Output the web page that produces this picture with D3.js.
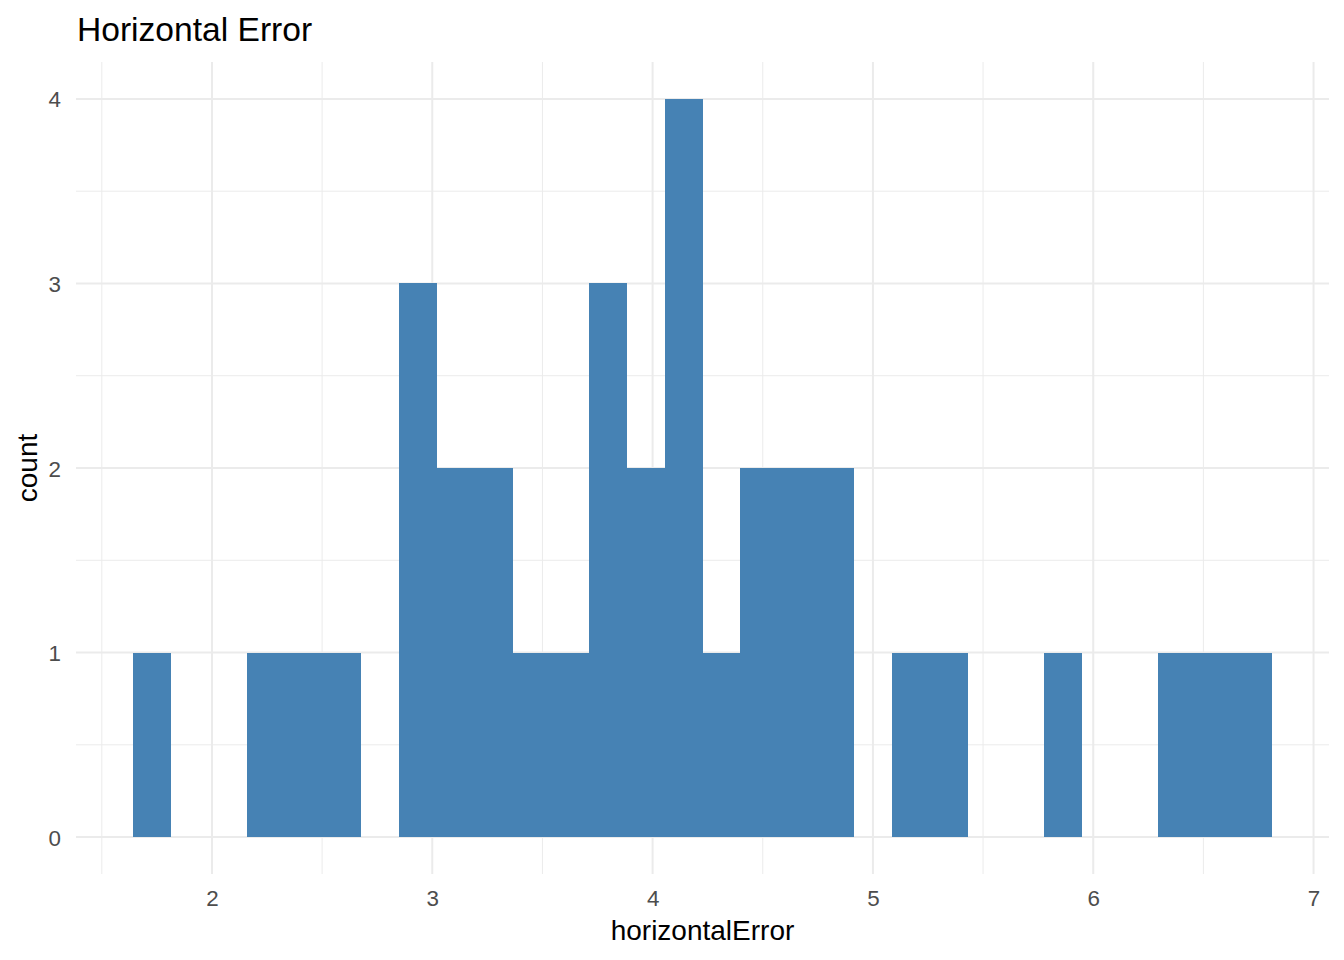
<!DOCTYPE html>
<html>
<head>
<meta charset="utf-8">
<script src="https://cdn.jsdelivr.net/npm/d3@7"></script>
<style>
  body { margin: 0; background: #fff; }
  text { font-family: "Liberation Sans", Arial, sans-serif; }
</style>
</head>
<body>
<div id="chart"></div>
<script>
// histogram counts, 30 bins
var binStart = 1.6414,
    binWidth = 0.17234;
var counts = [1, 0, 0, 1, 1, 1, 0, 3, 2, 2,
              1, 1, 3, 2, 4, 1, 2, 2, 2, 0,
              1, 1, 0, 0, 1, 0, 0, 1, 1, 1];

var xTicks = [2, 3, 4, 5, 6, 7],
    xMinor = [1.5, 2.5, 3.5, 4.5, 5.5, 6.5],
    yTicks = [0, 1, 2, 3, 4],
    yMinor = [0.5, 1.5, 2.5, 3.5];

var titleText = "Horizontal Error",
    xTitle = "horizontalError",
    yTitle = "count";

var width = 1344, height = 960;
var panel = { left: 76, right: 1329, top: 62, bottom: 874 };

var bins = counts.map(function (c, i) {
    return { x0: binStart + i * binWidth, x1: binStart + (i + 1) * binWidth, n: c };
});

// ggplot style 5% expansion
var xMin = bins[0].x0, xMax = bins[bins.length - 1].x1;
var xPad = (xMax - xMin) * 0.05;
var x = d3.scaleLinear()
    .domain([xMin - xPad, xMax + xPad])
    .range([panel.left, panel.right]);

var yMax = d3.max(counts);
var y = d3.scaleLinear()
    .domain([-yMax * 0.05, yMax * 1.05])
    .range([panel.bottom, panel.top]);

var svg = d3.select("#chart").append("svg")
    .attr("width", width)
    .attr("height", height);

// minor grid
var grid = svg.append("g").attr("stroke", "#EBEBEB").attr("fill", "none");
grid.selectAll(".xminor").data(xMinor).enter().append("line")
    .attr("x1", function (d) { return x(d); }).attr("x2", function (d) { return x(d); })
    .attr("y1", panel.top).attr("y2", panel.bottom)
    .attr("stroke-width", 1);
grid.selectAll(".yminor").data(yMinor).enter().append("line")
    .attr("y1", function (d) { return y(d); }).attr("y2", function (d) { return y(d); })
    .attr("x1", panel.left).attr("x2", panel.right)
    .attr("stroke-width", 1);

// major grid
grid.selectAll(".xmajor").data(xTicks).enter().append("line")
    .attr("x1", function (d) { return x(d); }).attr("x2", function (d) { return x(d); })
    .attr("y1", panel.top).attr("y2", panel.bottom)
    .attr("stroke-width", 2);
grid.selectAll(".ymajor").data(yTicks).enter().append("line")
    .attr("y1", function (d) { return y(d); }).attr("y2", function (d) { return y(d); })
    .attr("x1", panel.left).attr("x2", panel.right)
    .attr("stroke-width", 2);

// bars
svg.append("g")
    .attr("shape-rendering", "crispEdges")
    .selectAll("rect")
    .data(bins.filter(function (d) { return d.n > 0; }))
    .enter().append("rect")
    .attr("x", function (d) { return Math.round(x(d.x0)); })
    .attr("width", function (d) { return Math.round(x(d.x1)) - Math.round(x(d.x0)); })
    .attr("y", function (d) { return Math.round(y(d.n)); })
    .attr("height", function (d) { return Math.round(y(0)) - Math.round(y(d.n)); })
    .attr("fill", "#4682B4");

// axes, no lines, just labels
var xAxis = svg.append("g")
    .attr("transform", "translate(0," + panel.bottom + ")")
    .call(d3.axisBottom(x).tickValues(xTicks).tickSize(0).tickPadding(0).tickFormat(d3.format("d")));
xAxis.select(".domain").remove();
xAxis.selectAll("text")
    .attr("y", 32)
    .attr("dy", 0)
    .attr("fill", "#4D4D4D")
    .style("font-size", "22.4px")
    .style("font-family", "'Liberation Sans', Arial, sans-serif");

var yAxis = svg.append("g")
    .attr("transform", "translate(" + panel.left + ",0)")
    .call(d3.axisLeft(y).tickValues(yTicks).tickSize(0).tickPadding(0).tickFormat(d3.format("d")));
yAxis.select(".domain").remove();
yAxis.selectAll("text")
    .attr("x", -15)
    .attr("dy", "0.36em")
    .attr("fill", "#4D4D4D")
    .style("font-size", "22.4px")
    .style("font-family", "'Liberation Sans', Arial, sans-serif");

// titles
svg.append("text")
    .attr("x", 77)
    .attr("y", 41)
    .style("font-size", "33.6px")
    .attr("fill", "#000")
    .text(titleText);

svg.append("text")
    .attr("x", (panel.left + panel.right) / 2)
    .attr("y", 940)
    .attr("text-anchor", "middle")
    .style("font-size", "28px")
    .attr("fill", "#000")
    .text(xTitle);

svg.append("text")
    .attr("transform", "translate(37," + (panel.top + panel.bottom) / 2 + ") rotate(-90)")
    .attr("text-anchor", "middle")
    .style("font-size", "28px")
    .attr("fill", "#000")
    .text(yTitle);
</script>
</body>
</html>
